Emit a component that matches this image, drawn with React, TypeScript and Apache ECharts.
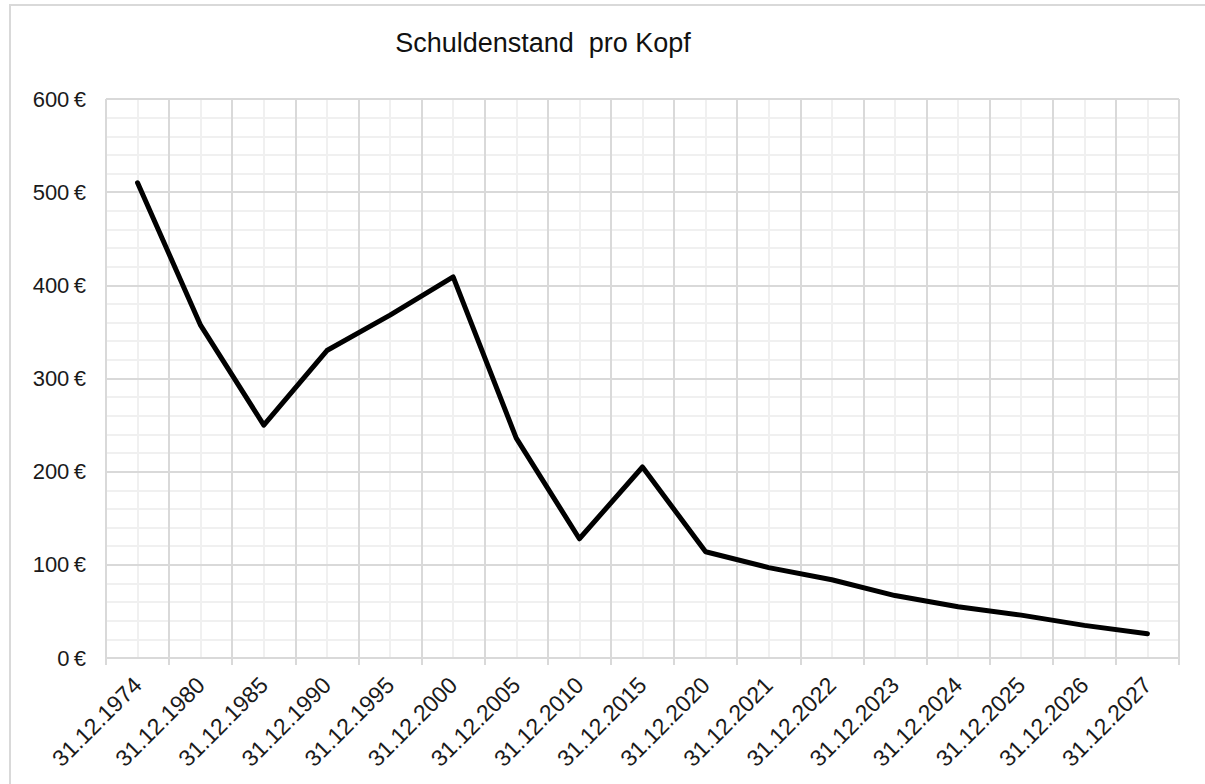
import React, { useEffect, useRef } from "react";
import * as echarts from "echarts";

const title = "Schuldenstand  pro Kopf";
const categories = [
  "31.12.1974", "31.12.1980", "31.12.1985", "31.12.1990", "31.12.1995",
  "31.12.2000", "31.12.2005", "31.12.2010", "31.12.2015", "31.12.2020",
  "31.12.2021", "31.12.2022", "31.12.2023", "31.12.2024", "31.12.2025",
  "31.12.2026", "31.12.2027",
];
const values = [510, 357, 250, 330, 368, 409, 236, 128, 205, 114, 97, 84, 67, 55, 46, 35, 26];
const yMin = 0;
const yMax = 600;
const yStep = 100;

const FONT = "'Liberation Sans', Arial, sans-serif";
const MAJOR = "#d9d9d9";
const MINOR = "#f0f0f0";

export default function App() {
  const ref = useRef<HTMLDivElement>(null);
  useEffect(() => {
    if (!ref.current) return;
    const chart = echarts.init(ref.current, null, { renderer: "svg" });
    chart.setOption({
      animation: false,
      backgroundColor: "#ffffff",
      title: {
        text: title,
        left: 538,
        top: 24,
        textAlign: "center",
        textStyle: { fontFamily: FONT, fontSize: 27, fontWeight: "normal", color: "#111111" },
      },
      graphic: [
        {
          type: "rect",
          z: -10,
          shape: { x: 10, y: 5, width: 1230, height: 820 },
          style: { fill: "none", stroke: "#d9d9d9", lineWidth: 2 },
        },
      ],
      grid: { left: 106, right: 26, top: 99, bottom: 126, containLabel: false },
      xAxis: [
        {
          type: "category",
          data: categories,
          boundaryGap: true,
          z: 2,
          axisLine: { show: true, lineStyle: { color: MAJOR, width: 2 } },
          axisTick: { show: true, length: 7, lineStyle: { color: MAJOR, width: 2 } },
          splitLine: { show: true, lineStyle: { color: MAJOR, width: 2 } },
          axisLabel: {
            rotate: 45,
            interval: 0,
            margin: 23,
            fontFamily: FONT,
            fontSize: 23,
            color: "#1a1a1a",
          },
        },
        {
          type: "value",
          min: 0,
          max: categories.length,
          interval: 1,
          position: "top",
          z: 0,
          axisLine: { show: false },
          axisTick: { show: false },
          axisLabel: { show: false },
          splitLine: { show: false },
          minorTick: { show: false, splitNumber: 2 },
          minorSplitLine: { show: true, lineStyle: { color: MINOR, width: 2 } },
        },
      ],
      yAxis: {
        type: "value",
        min: yMin,
        max: yMax,
        interval: yStep,
        z: 1,
        axisLine: { show: false },
        axisTick: { show: false },
        axisLabel: {
          margin: 20,
          fontFamily: FONT,
          fontSize: 22,
          color: "#1a1a1a",
          formatter: (v: number) => `${v}\u2009€`,
        },
        splitLine: { show: true, lineStyle: { color: MAJOR, width: 2 } },
        minorTick: { show: false, splitNumber: 5 },
        minorSplitLine: { show: true, lineStyle: { color: MINOR, width: 2 } },
      },
      series: [
        {
          type: "line",
          data: values,
          xAxisIndex: 0,
          yAxisIndex: 0,
          z: 10,
          symbol: "none",
          lineStyle: { color: "#000000", width: 5, cap: "round", join: "round" },
        },
      ],
    });
    return () => chart.dispose();
  }, []);
  return (
    <div
      ref={ref}
      style={{ position: "fixed", left: 0, top: 0, width: 1205, height: 784 }}
    />
  );
}
